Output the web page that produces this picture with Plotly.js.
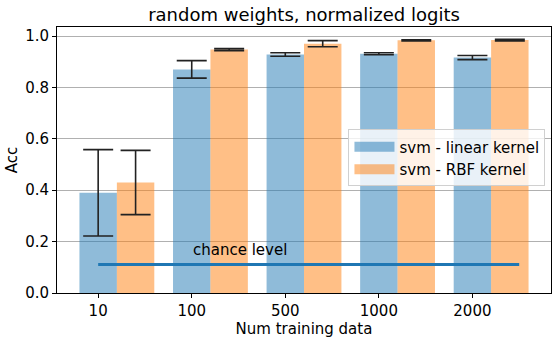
<!DOCTYPE html>
<html>
<head>
<meta charset="utf-8">
<script src="https://cdn.plot.ly/plotly-3.0.1.min.js"></script>
<style>
  html, body { margin: 0; padding: 0; background: #fff; }
  #chart { width: 558px; height: 341px; }
</style>
</head>
<body>
<div id="chart"></div>
<script>
// values
const categories = ['10', '100', '500', '1000', '2000'];
const linearAcc = [0.39, 0.87, 0.928, 0.931, 0.916];
const linearErr = [0.168, 0.034, 0.007, 0.004, 0.008];
const rbfAcc = [0.43, 0.947, 0.970, 0.983, 0.984];
const rbfErr = [0.125, 0.004, 0.012, 0.002, 0.003];
const chanceLevel = 0.111;
const chanceSpan = [0, 4.5];
const seriesNames = ['svm - linear kernel', 'svm - RBF kernel'];
const seriesColors = ['rgba(31,119,180,0.5)', 'rgba(255,127,14,0.5)'];

const barWidth = 0.4;
const pos = categories.map((c, i) => i);

const font = 'DejaVu Sans, sans-serif';

const errStyle = { type: 'data', visible: true, color: '#222', thickness: 1.6, width: 15 };

const traceLinear = {
    type: 'bar',
    x: pos,
    y: linearAcc,
    width: barWidth,
    showlegend: false,
    marker: { color: seriesColors[0], line: { width: 0 } },
    error_y: Object.assign({ array: linearErr }, errStyle)
};

const traceRbf = {
    type: 'bar',
    x: pos.map(p => p + barWidth),
    y: rbfAcc,
    width: barWidth,
    showlegend: false,
    marker: { color: seriesColors[1], line: { width: 0 } },
    error_y: Object.assign({ array: rbfErr }, errStyle)
};

const traceChance = {
    type: 'scatter',
    mode: 'lines',
    x: chanceSpan,
    y: [chanceLevel, chanceLevel],
    line: { color: '#1f77b4', width: 3 },
    showlegend: false,
    hoverinfo: 'none'
};

// legend-only entries, so the swatches are wide patches like matplotlib's
const legendTraces = seriesNames.map((name, i) => ({
    type: 'scatter',
    mode: 'lines',
    x: [null],
    y: [null],
    name: name,
    line: { color: seriesColors[i], width: 10 }
}));

const layout = {
    width: 558,
    height: 341,
    margin: { l: 57, r: 7, t: 27, b: 48 },
    paper_bgcolor: '#fff',
    plot_bgcolor: '#fff',
    font: { family: font, size: 15, color: '#000' },
    barmode: 'overlay',
    showlegend: true,
    title: {
        text: 'random weights, normalized logits',
        font: { family: font, size: 18, color: '#000' },
        xref: 'paper', x: 0.5, xanchor: 'center',
        yref: 'container', y: 0.958, yanchor: 'middle'
    },
    xaxis: {
        range: [-0.44, 4.84],
        tickvals: pos,
        ticktext: categories,
        ticks: 'outside', ticklen: 4, tickcolor: '#000',
        showgrid: false, zeroline: false,
        showline: true, mirror: true, linecolor: '#000', linewidth: 1,
        title: { text: 'Num training data', font: { family: font, size: 15 }, standoff: 2 }
    },
    yaxis: {
        range: [0, 1.035],
        tickvals: [0, 0.2, 0.4, 0.6, 0.8, 1.0],
        tickformat: '.1f',
        ticks: 'outside', ticklen: 4, tickcolor: '#000',
        showgrid: true, gridcolor: '#b0b0b0', gridwidth: 1,
        zeroline: false,
        showline: true, mirror: true, linecolor: '#000', linewidth: 1,
        title: { text: 'Acc', font: { family: font, size: 15 }, standoff: 3 }
    },
    legend: {
        x: 0.59, y: 0.615, xanchor: 'left', yanchor: 'top',
        bgcolor: 'rgba(255,255,255,0.8)',
        bordercolor: '#d0d0d0', borderwidth: 1,
        font: { family: font, size: 15 },
        itemwidth: 40
    },
    annotations: [{
        x: 0.99, y: 0.168, xref: 'x', yref: 'y',
        text: 'chance level', showarrow: false,
        xanchor: 'left', yanchor: 'middle',
        font: { family: font, size: 15, color: '#000' }
    }]
};

Plotly.newPlot('chart', [traceLinear, traceRbf, traceChance].concat(legendTraces), layout, { displayModeBar: false, staticPlot: true });
</script>
</body>
</html>
